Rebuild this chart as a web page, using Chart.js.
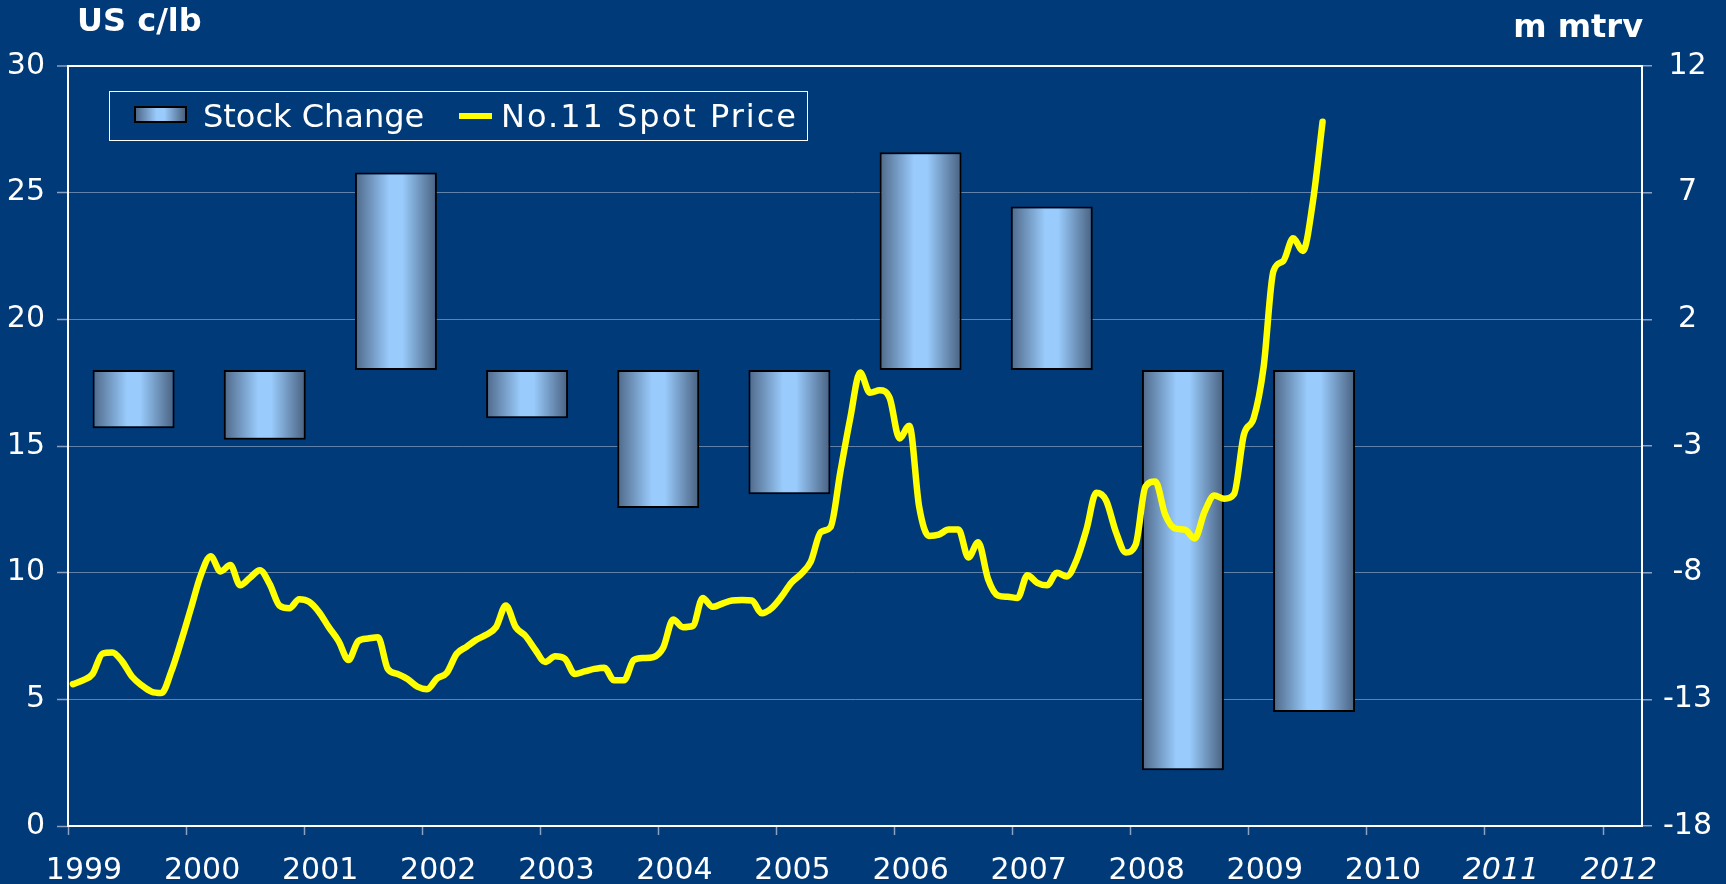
<!DOCTYPE html>
<html>
<head>
<meta charset="utf-8">
<script src="https://cdn.jsdelivr.net/npm/chart.js@4.4.1/dist/chart.umd.min.js"></script>
<style>
  html, body { margin: 0; padding: 0; background: #003a78; }
  #wrap { position: relative; width: 1726px; height: 884px; font-family: "DejaVu Sans", Verdana, sans-serif; color: #fff; }
  .unit { position: absolute; font-weight: bold; font-size: 32px; line-height: 37px; white-space: nowrap; }
  #unitLeft { left: 77px; top: 2px; }
  #unitRight { right: 83px; top: 8px; }
  #legend { position: absolute; left: 109px; top: 91px; width: 697px; height: 48px; border: 1px solid #fff; font-size: 32px; line-height: 37px; }
  #legend span { position: absolute; white-space: nowrap; }
  .swatch-bar { box-sizing: border-box; width: 53px; height: 17px; border: 2px solid #000;
    background: linear-gradient(to right, #4e6888, #99cbfc 42%, #99cbfc 58%, #48607f); }
  .swatch-line { width: 33px; height: 6px; background: #ffff00; }
</style>
</head>
<body>
<div id="wrap">
  <canvas id="chart"></canvas>
  <div class="unit" id="unitLeft">US c/lb</div>
  <div class="unit" id="unitRight">m mtrv</div>
  <div id="legend"></div>
</div>
<script>
// x axis tick labels (years), the last two shown in italics
const yearTicks = [1999, 2000, 2001, 2002, 2003, 2004, 2005, 2006, 2007, 2008, 2009, 2010, 2011, 2012];
const forecastYears = [2011, 2012];

// left axis: US c/lb, right axis: m mtrv
const leftTicks = [0, 5, 10, 15, 20, 25, 30];
const rightTicks = [-18, -13, -8, -3, 2, 7, 12];

// stock change per season (m mtrv)
const barCategories = ["1999", "2000", "2001", "2002", "2003", "2004", "2005", "2006", "2007", "2008", "2009", "2010"];
const stockChange = [-2.3, -2.75, 7.8, -1.9, -5.45, -4.9, 8.6, 6.45, -15.8, -13.5, null, null];

// No.11 spot price, monthly from Jan 1999 (US c/lb)
const priceStartYear = 1999;
const spotPrice = [
  5.6, 5.75, 6.0, 6.8, 6.85, 6.5, 5.9, 5.55, 5.3, 5.25, 6.1, 7.3,          // 1999
  8.6, 9.9, 10.65, 10.05, 10.3, 9.5, 9.8, 10.1, 9.55, 8.7, 8.6, 8.95,      // 2000
  8.85, 8.45, 7.85, 7.3, 6.55, 7.3, 7.4, 7.45, 6.2, 6.0, 5.8, 5.5,         // 2001
  5.4, 5.82, 6.05, 6.8, 7.07, 7.35, 7.55, 7.85, 8.7, 7.85, 7.5, 6.95,      // 2002
  6.47, 6.7, 6.6, 6.0, 6.1, 6.2, 6.25, 5.75, 5.75, 6.55, 6.63, 6.67,      // 2003
  7.05, 8.15, 7.85, 7.9, 9.0, 8.65, 8.78, 8.9, 8.92, 8.9, 8.4, 8.6,        // 2004
  9.05, 9.6, 9.95, 10.45, 11.6, 11.8, 14.0, 16.1, 17.9, 17.1, 17.2, 16.9,  // 2005
  15.3, 15.8, 12.6, 11.45, 11.5, 11.7, 11.7, 10.6, 11.2, 9.75, 9.1, 9.05,  // 2006
  9.0, 9.9, 9.6, 9.5, 10.0, 9.85, 10.5, 11.7, 13.15, 12.85, 11.6, 10.8,    // 2007
  11.1, 13.4, 13.6, 12.3, 11.75, 11.7, 11.35, 12.4, 13.05, 12.92, 13.1, 15.45, // 2008
  16.1, 18.1, 21.9, 22.3, 23.2, 22.7, 24.6, 27.8                           // 2009
];

const FONT = '"DejaVu Sans", Verdana, sans-serif';
const pricePoints = spotPrice.map((v, i) => ({ x: priceStartYear + (i + 0.5) / 12, y: v }));

function barGradient(c) {
  const chart = c.chart;
  const xb = chart.scales.xb;
  if (c.type !== 'data' || !xb) return '#99ccff';
  const cx = xb.getPixelForValue(c.dataIndex);
  const w = (xb.getPixelForValue(1) - xb.getPixelForValue(0)) * 0.625;
  if (!isFinite(cx) || !isFinite(w) || w <= 0) return '#99ccff';
  const g = chart.ctx.createLinearGradient(cx - w / 2, 0, cx + w / 2, 0);
  g.addColorStop(0, '#4e6888');
  g.addColorStop(0.42, '#99cbfc');
  g.addColorStop(0.58, '#99cbfc');
  g.addColorStop(1, '#48607f');
  return g;
}

const fixTicks = list => scale => { scale.ticks = list.map(v => ({ value: v })); };

const chart = new Chart(document.getElementById('chart').getContext('2d'), {
  type: 'bar',
  data: {
    labels: barCategories,
    datasets: [
      {
        type: 'line',
        label: 'No.11 Spot Price',
        data: pricePoints,
        xAxisID: 'x',
        yAxisID: 'y',
        borderColor: '#ffff00',
        borderWidth: 6.5,
        pointRadius: 0,
        cubicInterpolationMode: 'monotone',
        borderCapStyle: 'round',
        borderJoinStyle: 'round',
        order: 0
      },
      {
        type: 'bar',
        label: 'Stock Change',
        data: stockChange,
        xAxisID: 'xb',
        yAxisID: 'y2',
        backgroundColor: barGradient,
        borderColor: '#000',
        borderWidth: 2,
        borderSkipped: false,
        grouped: false,
        barPercentage: 0.625,
        categoryPercentage: 1,
        order: 1
      }
    ]
  },
  options: {
    responsive: true,
    maintainAspectRatio: false,
    animation: false,
    layout: { padding: { top: 66 } },
    plugins: {
      legend: { display: false },
      tooltip: { enabled: false }
    },
    scales: {
      x: {
        type: 'linear',
        axis: 'x',
        position: 'bottom',
        min: 1999,
        max: 2012.33,
        offset: false,
        afterBuildTicks: fixTicks(yearTicks),
        afterFit: s => { s.height = 58; },
        grid: { offset: false, drawOnChartArea: false, tickLength: 9, tickColor: '#8da2c0', tickWidth: 1.5 },
        border: { display: true, color: '#ffffff', width: 2 },
        ticks: {
          color: '#ffffff',
          padding: 18,
          labelOffset: 16,
          maxRotation: 0,
          autoSkip: false,
          font: c => ({ family: FONT, size: 30, style: c.tick && forecastYears.includes(c.tick.value) ? 'italic' : 'normal' }),
          callback: v => String(v)
        }
      },
      xb: {
        type: 'category',
        axis: 'x',
        display: false,
        offset: true,
        labels: barCategories,
        grid: { offset: true }
      },
      y: {
        type: 'linear',
        position: 'left',
        min: 0,
        max: 30,
        afterBuildTicks: fixTicks(leftTicks),
        afterFit: s => { s.width = 68; },
        grid: {
          color: c => !c.tick ? 'transparent' : c.tick.value === 30 ? '#ffffff' : c.tick.value === 0 ? 'transparent' : 'rgba(175,190,210,0.55)',
          lineWidth: c => c.tick && c.tick.value === 30 ? 2 : 1,
          tickLength: 11,
          tickColor: '#8da2c0',
          tickWidth: 1.5
        },
        border: { display: true, color: '#ffffff', width: 2 },
        ticks: { color: '#ffffff', padding: 12, font: { family: FONT, size: 30 } }
      },
      y2: {
        type: 'linear',
        position: 'right',
        min: -18,
        max: 12,
        afterBuildTicks: fixTicks(rightTicks),
        afterFit: s => { s.width = 84; },
        grid: {
          color: c => c.tick && c.tick.value === 0 ? '#ffffff' : 'transparent',
          lineWidth: 1.5,
          tickLength: 10,
          tickColor: '#8da2c0',
          tickWidth: 1.5
        },
        border: { display: true, color: '#ffffff', width: 2 },
        ticks: { color: '#ffffff', padding: 11, crossAlign: 'center', font: { family: FONT, size: 30 } }
      }
    }
  }
});

// legend box in the plot, built from the dataset labels
const legend = document.getElementById('legend');
const barDs = chart.data.datasets[1];
const lineDs = chart.data.datasets[0];
legend.innerHTML =
  '<span class="swatch-bar" style="left:24px;top:14px"></span>' +
  '<span style="left:93px;top:6px">' + barDs.label + '</span>' +
  '<span class="swatch-line" style="left:349px;top:21px"></span>' +
  '<span style="left:391px;top:6px;letter-spacing:2px">' + lineDs.label + '</span>';
</script>
</body>
</html>
